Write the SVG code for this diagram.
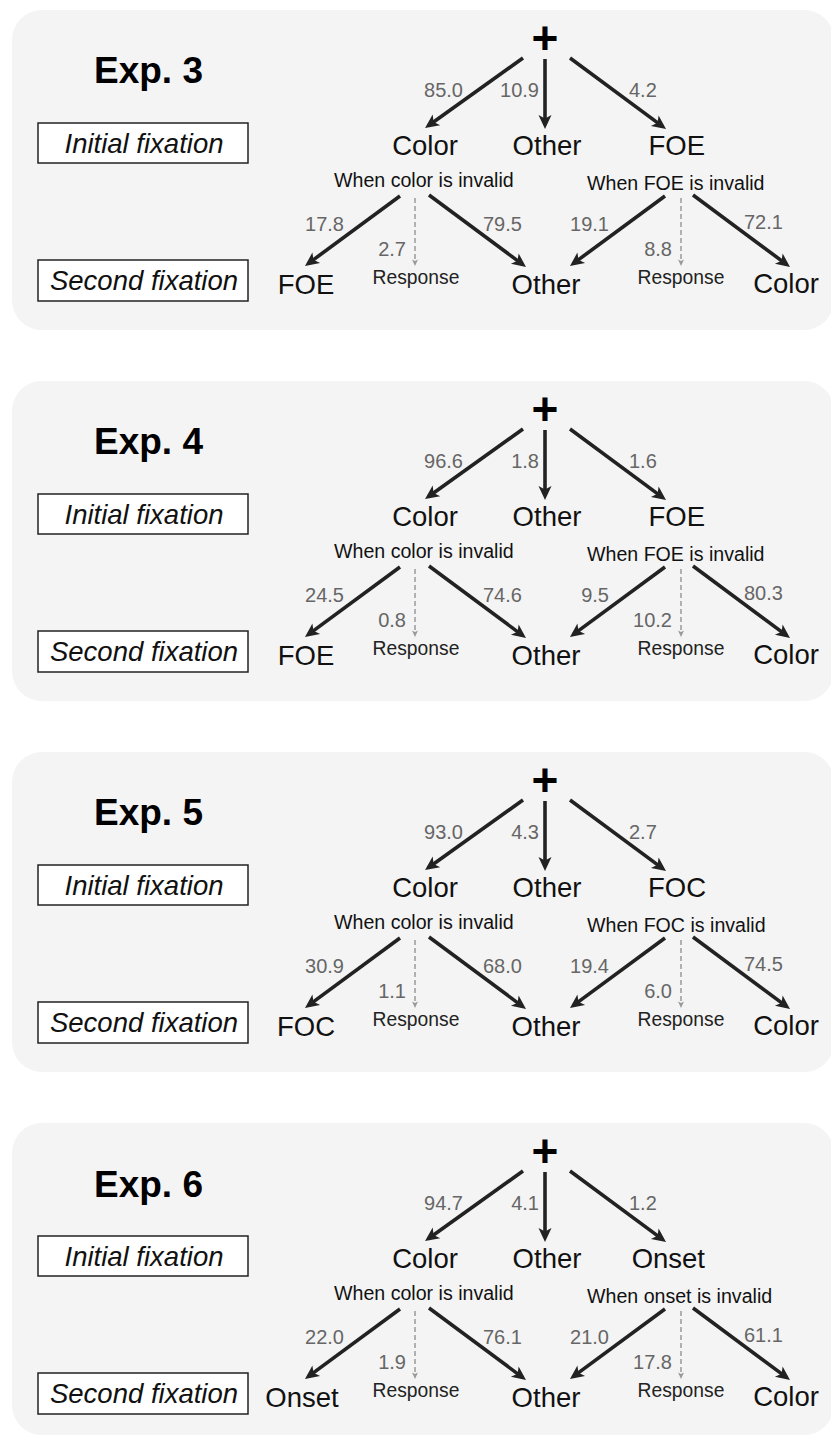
<svg xmlns="http://www.w3.org/2000/svg" width="831" height="1437" viewBox="0 0 831 1437">
<style>
text{font-family:"Liberation Sans",Arial,Helvetica,sans-serif}
.panel{fill:#f4f4f4}
.exp{font-size:37px;font-weight:bold;fill:#000;text-anchor:middle}
.box{fill:#fff;stroke:#222;stroke-width:1.5}
.boxt{font-size:27.5px;font-style:italic;fill:#111;text-anchor:middle}
.cross{font-size:46px;font-weight:bold;fill:#000;text-anchor:middle}
.node{font-size:27.5px;fill:#111}
.pct{font-size:20px;fill:#666}
.cond{font-size:19.6px;fill:#111}
.resp{font-size:19.3px;fill:#222;text-anchor:middle}
.m{text-anchor:middle}.e{text-anchor:end}.s{text-anchor:start}
.arr{stroke:#222;stroke-width:3.6;fill:none;marker-end:url(#ah)}
.dash{stroke:#999;stroke-width:1.5;stroke-dasharray:5,3;fill:none;marker-end:url(#ahd)}
</style>
<defs>
<marker id="ah" markerUnits="userSpaceOnUse" markerWidth="16" markerHeight="16" viewBox="0 0 16 16" refX="11" refY="8" orient="auto"><path d="M1,1.5 L15,8 L1,14.5 L4.5,8 z" fill="#222"/></marker>
<marker id="ahd" markerUnits="userSpaceOnUse" markerWidth="8" markerHeight="8" viewBox="0 0 8 8" refX="5" refY="4" orient="auto"><path d="M0.5,1 L7,4 L0.5,7 L2,4 z" fill="#999"/></marker>
</defs>
<rect width="831" height="1437" fill="#fff"/>

<!-- Panel Exp. 3 -->
<g id="panel-exp3">
<rect class="panel" x="12" y="10" width="822" height="320" rx="30"/>
<g id="e3-title"><text class="exp" x="148.5" y="83">Exp. 3</text></g>
<g id="e3-initial"><rect class="box" x="38" y="123" width="210" height="40"/><text class="boxt" x="144" y="153">Initial fixation</text></g>
<g id="e3-second"><rect class="box" x="38" y="260" width="210" height="41"/><text class="boxt" x="144" y="290">Second fixation</text></g>
<g id="e3-cross"><text class="cross" x="545" y="54">+</text></g>
<g id="e3-color1"><text class="node m" x="425" y="155">Color</text></g>
<g id="e3-other1"><text class="node m" x="547" y="155">Other</text></g>
<g id="e3-foe1"><text class="node e" x="705" y="155">FOE</text></g>
<g id="e3-cond-color"><text class="cond s" x="334" y="187">When color is invalid</text></g>
<g id="e3-cond-foe"><text class="cond s" x="587" y="190">When FOE is invalid</text></g>
<g id="e3-foe2"><text class="node m" x="306" y="294">FOE</text></g>
<g id="e3-resp1"><text class="resp" x="416" y="284">Response</text></g>
<g id="e3-other2"><text class="node m" x="546" y="294">Other</text></g>
<g id="e3-resp2"><text class="resp" x="681" y="284">Response</text></g>
<g id="e3-color2"><text class="node m" x="786" y="293">Color</text></g>
<g id="e3-connectors">
<path class="arr" d="M523,58 L428.3,125.7"/>
<path class="arr" d="M545,59 L545,125"/>
<path class="arr" d="M570,58 L662.8,126.6"/>
<path class="arr" d="M400,196 L308.2,263.6"/>
<path class="dash" d="M415,198 L415,264"/>
<path class="arr" d="M429,195 L522.8,264.6"/>
<path class="arr" d="M665,196 L573.2,263.6"/>
<path class="dash" d="M681,198 L681,264"/>
<path class="arr" d="M693,195 L786.8,264.6"/>
<text class="pct e" x="463" y="97">85.0</text>
<text class="pct e" x="539" y="97">10.9</text>
<text class="pct s" x="629" y="97">4.2</text>
<text class="pct e" x="344" y="231">17.8</text>
<text class="pct e" x="406" y="256">2.7</text>
<text class="pct s" x="483" y="231">79.5</text>
<text class="pct e" x="609" y="231">19.1</text>
<text class="pct e" x="672" y="256">8.8</text>
<text class="pct s" x="744" y="229">72.1</text>
</g>
</g>

<!-- Panel Exp. 4 -->
<g id="panel-exp4" transform="translate(0,371)">
<rect class="panel" x="12" y="10" width="822" height="320" rx="30"/>
<g id="e4-title"><text class="exp" x="148.5" y="83">Exp. 4</text></g>
<g id="e4-initial"><rect class="box" x="38" y="123" width="210" height="40"/><text class="boxt" x="144" y="153">Initial fixation</text></g>
<g id="e4-second"><rect class="box" x="38" y="260" width="210" height="41"/><text class="boxt" x="144" y="290">Second fixation</text></g>
<g id="e4-cross"><text class="cross" x="545" y="54">+</text></g>
<g id="e4-color1"><text class="node m" x="425" y="155">Color</text></g>
<g id="e4-other1"><text class="node m" x="547" y="155">Other</text></g>
<g id="e4-foe1"><text class="node e" x="705" y="155">FOE</text></g>
<g id="e4-cond-color"><text class="cond s" x="334" y="187">When color is invalid</text></g>
<g id="e4-cond-foe"><text class="cond s" x="587" y="190">When FOE is invalid</text></g>
<g id="e4-foe2"><text class="node m" x="306" y="294">FOE</text></g>
<g id="e4-resp1"><text class="resp" x="416" y="284">Response</text></g>
<g id="e4-other2"><text class="node m" x="546" y="294">Other</text></g>
<g id="e4-resp2"><text class="resp" x="681" y="284">Response</text></g>
<g id="e4-color2"><text class="node m" x="786" y="293">Color</text></g>
<g id="e4-connectors">
<path class="arr" d="M523,58 L428.3,125.7"/>
<path class="arr" d="M545,59 L545,125"/>
<path class="arr" d="M570,58 L662.8,126.6"/>
<path class="arr" d="M400,196 L308.2,263.6"/>
<path class="dash" d="M415,198 L415,264"/>
<path class="arr" d="M429,195 L522.8,264.6"/>
<path class="arr" d="M665,196 L573.2,263.6"/>
<path class="dash" d="M681,198 L681,264"/>
<path class="arr" d="M693,195 L786.8,264.6"/>
<text class="pct e" x="463" y="97">96.6</text>
<text class="pct e" x="539" y="97">1.8</text>
<text class="pct s" x="629" y="97">1.6</text>
<text class="pct e" x="344" y="231">24.5</text>
<text class="pct e" x="406" y="256">0.8</text>
<text class="pct s" x="483" y="231">74.6</text>
<text class="pct e" x="609" y="231">9.5</text>
<text class="pct e" x="672" y="256">10.2</text>
<text class="pct s" x="744" y="229">80.3</text>
</g>
</g>

<!-- Panel Exp. 5 -->
<g id="panel-exp5" transform="translate(0,742)">
<rect class="panel" x="12" y="10" width="822" height="320" rx="30"/>
<g id="e5-title"><text class="exp" x="148.5" y="83">Exp. 5</text></g>
<g id="e5-initial"><rect class="box" x="38" y="123" width="210" height="40"/><text class="boxt" x="144" y="153">Initial fixation</text></g>
<g id="e5-second"><rect class="box" x="38" y="260" width="210" height="41"/><text class="boxt" x="144" y="290">Second fixation</text></g>
<g id="e5-cross"><text class="cross" x="545" y="54">+</text></g>
<g id="e5-color1"><text class="node m" x="425" y="155">Color</text></g>
<g id="e5-other1"><text class="node m" x="547" y="155">Other</text></g>
<g id="e5-foc1"><text class="node e" x="706" y="155">FOC</text></g>
<g id="e5-cond-color"><text class="cond s" x="334" y="187">When color is invalid</text></g>
<g id="e5-cond-foc"><text class="cond s" x="587" y="190">When FOC is invalid</text></g>
<g id="e5-foc2"><text class="node m" x="306" y="294">FOC</text></g>
<g id="e5-resp1"><text class="resp" x="416" y="284">Response</text></g>
<g id="e5-other2"><text class="node m" x="546" y="294">Other</text></g>
<g id="e5-resp2"><text class="resp" x="681" y="284">Response</text></g>
<g id="e5-color2"><text class="node m" x="786" y="293">Color</text></g>
<g id="e5-connectors">
<path class="arr" d="M523,58 L428.3,125.7"/>
<path class="arr" d="M545,59 L545,125"/>
<path class="arr" d="M570,58 L662.8,126.6"/>
<path class="arr" d="M400,196 L308.2,263.6"/>
<path class="dash" d="M415,198 L415,264"/>
<path class="arr" d="M429,195 L522.8,264.6"/>
<path class="arr" d="M665,196 L573.2,263.6"/>
<path class="dash" d="M681,198 L681,264"/>
<path class="arr" d="M693,195 L786.8,264.6"/>
<text class="pct e" x="463" y="97">93.0</text>
<text class="pct e" x="539" y="97">4.3</text>
<text class="pct s" x="629" y="97">2.7</text>
<text class="pct e" x="344" y="231">30.9</text>
<text class="pct e" x="406" y="256">1.1</text>
<text class="pct s" x="483" y="231">68.0</text>
<text class="pct e" x="609" y="231">19.4</text>
<text class="pct e" x="672" y="256">6.0</text>
<text class="pct s" x="744" y="229">74.5</text>
</g>
</g>

<!-- Panel Exp. 6 -->
<g id="panel-exp6" transform="translate(0,1113)">
<rect class="panel" x="12" y="10" width="822" height="312" rx="30"/>
<g id="e6-title"><text class="exp" x="148.5" y="84">Exp. 6</text></g>
<g id="e6-initial"><rect class="box" x="38" y="123" width="210" height="40"/><text class="boxt" x="144" y="153">Initial fixation</text></g>
<g id="e6-second"><rect class="box" x="38" y="260" width="210" height="41"/><text class="boxt" x="144" y="290">Second fixation</text></g>
<g id="e6-cross"><text class="cross" x="545" y="54">+</text></g>
<g id="e6-color1"><text class="node m" x="425" y="155">Color</text></g>
<g id="e6-other1"><text class="node m" x="547" y="155">Other</text></g>
<g id="e6-onset1"><text class="node e" x="705" y="155">Onset</text></g>
<g id="e6-cond-color"><text class="cond s" x="334" y="187">When color is invalid</text></g>
<g id="e6-cond-onset"><text class="cond s" x="587" y="190">When onset is invalid</text></g>
<g id="e6-onset2"><text class="node m" x="302" y="294">Onset</text></g>
<g id="e6-resp1"><text class="resp" x="416" y="284">Response</text></g>
<g id="e6-other2"><text class="node m" x="546" y="294">Other</text></g>
<g id="e6-resp2"><text class="resp" x="681" y="284">Response</text></g>
<g id="e6-color2"><text class="node m" x="786" y="293">Color</text></g>
<g id="e6-connectors">
<path class="arr" d="M523,58 L428.3,125.7"/>
<path class="arr" d="M545,59 L545,125"/>
<path class="arr" d="M570,58 L662.8,126.6"/>
<path class="arr" d="M400,196 L308.2,263.6"/>
<path class="dash" d="M415,198 L415,264"/>
<path class="arr" d="M429,195 L522.8,264.6"/>
<path class="arr" d="M665,196 L573.2,263.6"/>
<path class="dash" d="M681,198 L681,264"/>
<path class="arr" d="M693,195 L786.8,264.6"/>
<text class="pct e" x="463" y="97">94.7</text>
<text class="pct e" x="539" y="97">4.1</text>
<text class="pct s" x="629" y="97">1.2</text>
<text class="pct e" x="344" y="231">22.0</text>
<text class="pct e" x="406" y="256">1.9</text>
<text class="pct s" x="483" y="231">76.1</text>
<text class="pct e" x="609" y="231">21.0</text>
<text class="pct e" x="672" y="256">17.8</text>
<text class="pct s" x="744" y="229">61.1</text>
</g>
</g>
</svg>
